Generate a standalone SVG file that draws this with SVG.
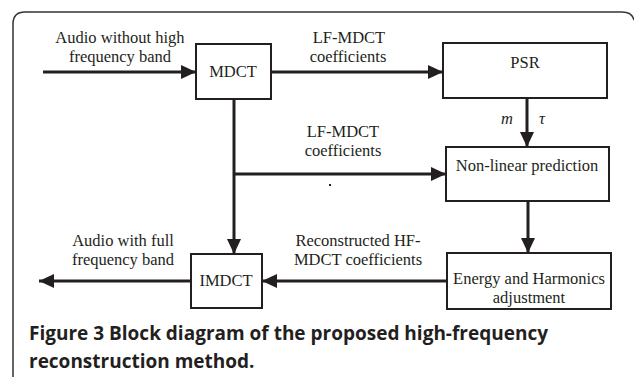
<svg xmlns="http://www.w3.org/2000/svg" width="634" height="378" viewBox="0 0 634 378">
<style>
.box{fill:#fff;stroke:#231f20;stroke-width:2}
.ln{fill:none;stroke:#231f20;stroke-width:3}
.t{font-family:'Liberation Serif','DejaVu Serif',serif;font-size:16.5px;fill:#231f20;text-anchor:middle}
.cap{font-family:'Open Sans','Noto Sans',sans-serif;font-weight:bold;font-size:19px;fill:#231f20}
</style>
<defs>
<marker id="ah" markerWidth="15" markerHeight="14" refX="15" refY="7" orient="auto" markerUnits="userSpaceOnUse">
<path d="M0,0 L15,7 L0,14 Z" fill="#231f20"/>
</marker>
</defs>
<rect width="634" height="378" fill="#fff"/>
<path d="M13,377 V24 Q13,12 25,12 H622 Q632,12 634,20" fill="none" stroke="#333" stroke-width="1.5"/>
<g id="connectors">
<line class="ln" x1="43" y1="72" x2="196" y2="72" marker-end="url(#ah)"/>
<line class="ln" x1="271" y1="72" x2="443" y2="72" marker-end="url(#ah)"/>
<line class="ln" x1="527" y1="98" x2="527" y2="147" marker-end="url(#ah)"/>
<line class="ln" x1="234" y1="99" x2="234" y2="254" marker-end="url(#ah)"/>
<line class="ln" x1="234" y1="174" x2="446" y2="174" marker-end="url(#ah)"/>
<line class="ln" x1="528" y1="201" x2="528" y2="253" marker-end="url(#ah)"/>
<line class="ln" x1="447" y1="281" x2="262" y2="281" marker-end="url(#ah)"/>
<line class="ln" x1="191" y1="281" x2="39" y2="281" marker-end="url(#ah)"/>
<text class="t" x="120" y="43">Audio without high</text>
<text class="t" x="120" y="62">frequency band</text>
<text class="t" x="349" y="43">LF-MDCT</text>
<text class="t" x="348" y="62">coefficients</text>
<text class="t" x="343" y="137">LF-MDCT</text>
<text class="t" x="343" y="156">coefficients</text>
<rect x="329" y="184" width="2" height="2" fill="#231f20"/>
<text class="t" x="507" y="124" font-style="italic">m</text>
<text class="t" x="542" y="124" font-style="italic">τ</text>
<text class="t" x="358" y="246">Reconstructed HF-</text>
<text class="t" x="358" y="265">MDCT coefficients</text>
<text class="t" x="123" y="246">Audio with full</text>
<text class="t" x="123" y="265">frequency band</text>
</g>
<g id="mdct"><rect class="box" x="196" y="44" width="75" height="55"/><text class="t" x="233" y="77">MDCT</text></g>
<g id="psr"><rect class="box" x="443" y="43" width="164" height="55"/><text class="t" x="525" y="68">PSR</text></g>
<g id="nlp"><rect class="box" x="446" y="147" width="163" height="54"/><text class="t" x="527" y="171">Non-linear prediction</text></g>
<g id="energy"><rect class="box" x="447" y="253" width="164" height="56"/><text class="t" x="529" y="284">Energy and Harmonics</text><text class="t" x="529" y="303">adjustment</text></g>
<g id="imdct"><rect class="box" x="191" y="254" width="71" height="54"/><text class="t" x="226" y="286">IMDCT</text></g>
<text class="cap" x="29" y="340">Figure 3 Block diagram of the proposed high-frequency</text>
<text class="cap" x="29" y="368">reconstruction method.</text>
</svg>
